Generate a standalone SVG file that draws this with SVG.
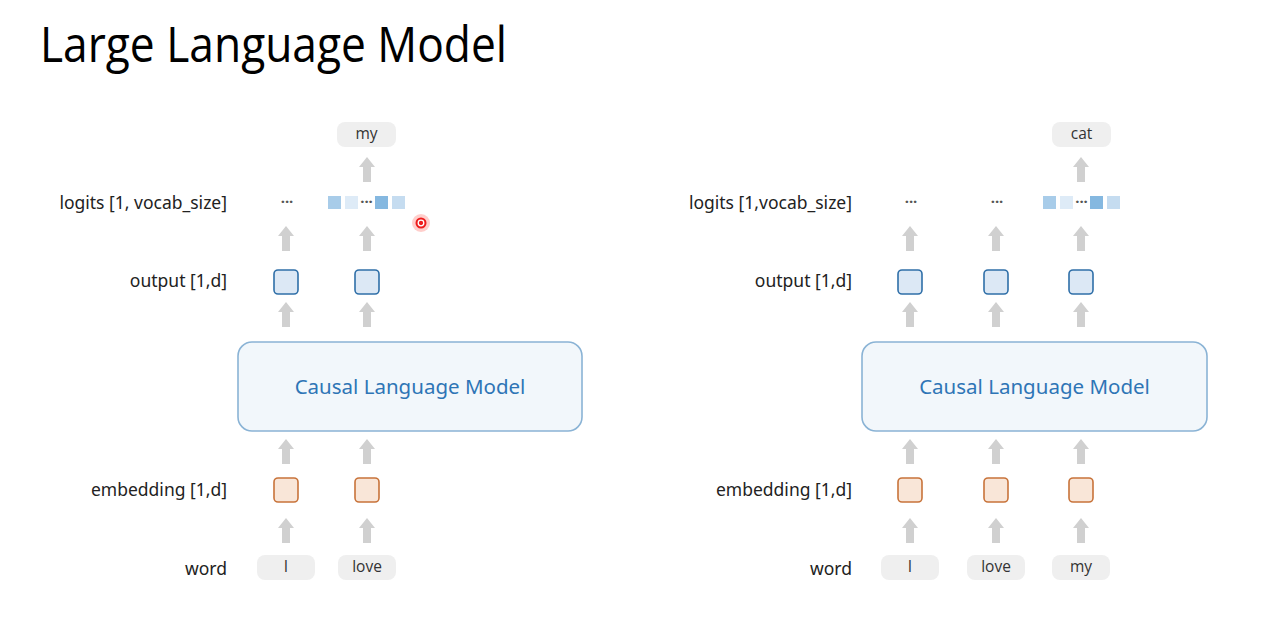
<svg xmlns="http://www.w3.org/2000/svg" width="1280" height="630" viewBox="0 0 1280 630">
<style>
.title{font-family:"Open Sans","Noto Sans",sans-serif;font-size:49px;fill:#000}
.lbl{font-family:"Noto Sans","Open Sans",sans-serif;font-size:17.5px;fill:#222;text-anchor:end;dominant-baseline:central}
.tok{fill:#efefef}
.tokt{font-family:"Open Sans","Noto Sans",sans-serif;font-size:15.5px;fill:#333;text-anchor:middle;dominant-baseline:central}
.emb{fill:#f9e6d8;stroke:#c8733a;stroke-width:1.6}
.out{fill:#dce8f5;stroke:#2f6fa8;stroke-width:1.6}
.clm{fill:#f2f7fb;stroke:#8ab3d5;stroke-width:1.6}
.clmt{font-family:"Noto Sans","Open Sans",sans-serif;font-size:20.5px;fill:#2e75b6;text-anchor:middle;dominant-baseline:central}
.dots{font-family:"Noto Sans","Open Sans",sans-serif;font-size:15px;font-weight:bold;fill:#555;text-anchor:middle;dominant-baseline:central}
.arr{fill:#d0d0d0}
</style>
<defs>
<path id="ar" d="M0,0 L8,10 L4,10 L4,25 L-4,25 L-4,10 L-8,10 Z"/>
</defs>
<text class="title" x="40" y="62" textLength="467" lengthAdjust="spacingAndGlyphs">Large Language Model</text>

<g id="labels-left">
<text class="lbl" x="227" y="202">logits [1, vocab_size]</text>
<text class="lbl" x="227" y="280">output [1,d]</text>
<text class="lbl" x="227" y="489">embedding [1,d]</text>
<text class="lbl" x="227" y="568">word</text>
</g>
<g id="labels-right">
<text class="lbl" x="852" y="202">logits [1,vocab_size]</text>
<text class="lbl" x="852" y="280">output [1,d]</text>
<text class="lbl" x="852" y="489">embedding [1,d]</text>
<text class="lbl" x="852" y="568">word</text>
</g>

<g id="connectors" class="arr">
<use href="#ar" x="286" y="518"/><use href="#ar" x="367" y="518"/>
<use href="#ar" x="286" y="439"/><use href="#ar" x="367" y="439"/>
<use href="#ar" x="286" y="302"/><use href="#ar" x="367" y="302"/>
<use href="#ar" x="286" y="226"/><use href="#ar" x="367" y="226"/>
<use href="#ar" x="367" y="157"/>
<use href="#ar" x="910" y="518"/><use href="#ar" x="996" y="518"/><use href="#ar" x="1081" y="518"/>
<use href="#ar" x="910" y="439"/><use href="#ar" x="996" y="439"/><use href="#ar" x="1081" y="439"/>
<use href="#ar" x="910" y="302"/><use href="#ar" x="996" y="302"/><use href="#ar" x="1081" y="302"/>
<use href="#ar" x="910" y="226"/><use href="#ar" x="996" y="226"/><use href="#ar" x="1081" y="226"/>
<use href="#ar" x="1081" y="157"/>
</g>

<g id="word-I-L"><rect class="tok" x="257" y="555" width="58" height="25" rx="8"/><text class="tokt" x="286" y="566">I</text></g>
<g id="word-love-L"><rect class="tok" x="338" y="555" width="58" height="25" rx="8"/><text class="tokt" x="367" y="566">love</text></g>
<g id="emb1-L"><rect class="emb" x="274" y="478" width="24" height="24" rx="4"/></g>
<g id="emb2-L"><rect class="emb" x="355" y="478" width="24" height="24" rx="4"/></g>
<g id="clm-L"><rect class="clm" x="238" y="342" width="344" height="89" rx="14"/><text class="clmt" x="410" y="386">Causal Language Model</text></g>
<g id="out1-L"><rect class="out" x="274" y="270" width="24" height="24" rx="4"/></g>
<g id="out2-L"><rect class="out" x="355" y="270" width="24" height="24" rx="4"/></g>
<g id="logits1-L"><text class="dots" x="287" y="201">···</text></g>
<g id="logits2-L">
<rect x="328" y="196" width="13" height="13" fill="#a8cce9"/>
<rect x="345" y="196" width="13" height="13" fill="#deebf7"/>
<text class="dots" x="366.5" y="201">···</text>
<rect x="375" y="196" width="13" height="13" fill="#85b8e0"/>
<rect x="392" y="196" width="13" height="13" fill="#c5dcf0"/>
</g>
<g id="pred-my"><rect class="tok" x="337" y="122" width="59" height="25" rx="8"/><text class="tokt" x="366.5" y="132.5">my</text></g>

<g id="word-I-R"><rect class="tok" x="881" y="555" width="58" height="25" rx="8"/><text class="tokt" x="910" y="566">I</text></g>
<g id="word-love-R"><rect class="tok" x="967" y="555" width="58" height="25" rx="8"/><text class="tokt" x="996" y="566">love</text></g>
<g id="word-my-R"><rect class="tok" x="1052" y="555" width="58" height="25" rx="8"/><text class="tokt" x="1081" y="566">my</text></g>
<g id="emb1-R"><rect class="emb" x="898" y="478" width="24" height="24" rx="4"/></g>
<g id="emb2-R"><rect class="emb" x="984" y="478" width="24" height="24" rx="4"/></g>
<g id="emb3-R"><rect class="emb" x="1069" y="478" width="24" height="24" rx="4"/></g>
<g id="clm-R"><rect class="clm" x="862" y="342" width="345" height="89" rx="14"/><text class="clmt" x="1034.5" y="386">Causal Language Model</text></g>
<g id="out1-R"><rect class="out" x="898" y="270" width="24" height="24" rx="4"/></g>
<g id="out2-R"><rect class="out" x="984" y="270" width="24" height="24" rx="4"/></g>
<g id="out3-R"><rect class="out" x="1069" y="270" width="24" height="24" rx="4"/></g>
<g id="logits1-R"><text class="dots" x="911" y="201">···</text></g>
<g id="logits2-R"><text class="dots" x="997" y="201">···</text></g>
<g id="logits3-R">
<rect x="1043" y="196" width="13" height="13" fill="#a8cce9"/>
<rect x="1060" y="196" width="13" height="13" fill="#deebf7"/>
<text class="dots" x="1081.5" y="201">···</text>
<rect x="1090" y="196" width="13" height="13" fill="#85b8e0"/>
<rect x="1107" y="196" width="13" height="13" fill="#c5dcf0"/>
</g>
<g id="pred-cat"><rect class="tok" x="1052" y="122" width="59" height="25" rx="8"/><text class="tokt" x="1081.5" y="132.5">cat</text></g>

<g id="pointer">
<circle cx="421" cy="223" r="9" fill="#ff3b30" opacity="0.25"/>
<circle cx="421" cy="223" r="5.5" fill="#ee1c1c"/>
<circle cx="421" cy="223" r="2.8" fill="none" stroke="#ffffff" stroke-width="1.3"/>
</g>
</svg>
